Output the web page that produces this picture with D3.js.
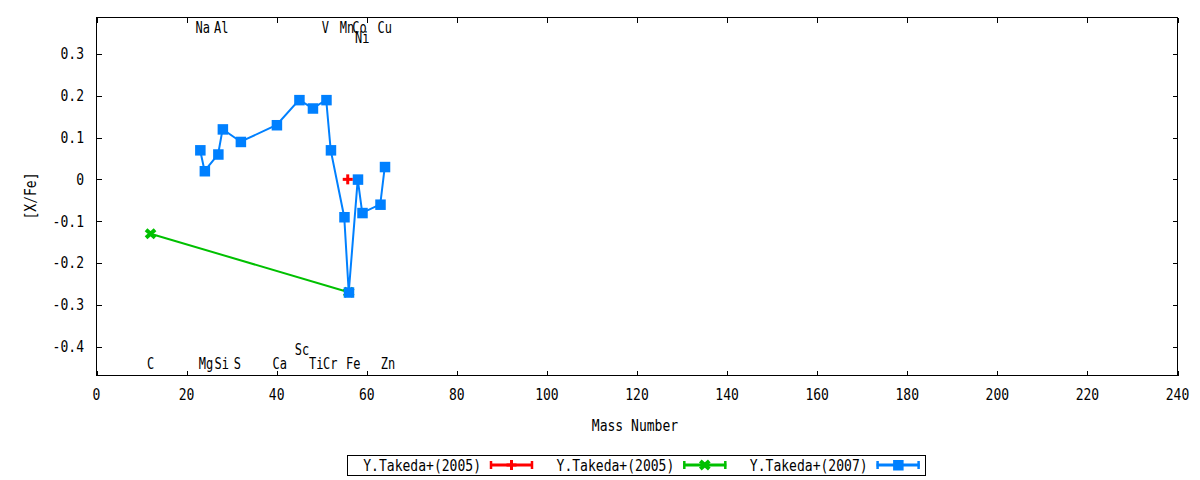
<html lang="en">
<head>
<meta charset="utf-8">
<title>[X/Fe] vs Mass Number</title>
<script src="https://d3js.org/d3.v7.min.js"></script>
<style>
  body { margin: 0; background: #fff; }
  text { font-family: "DejaVu Sans Mono", monospace; font-size: 15px; fill: #000; }
</style>
</head>
<body>
<script>
// --- data ---
// Y.Takeda+(2005), red
var redMass = [56];
var redVal  = [0.00];
// Y.Takeda+(2005), green
var greenMass = [12, 56];
var greenVal  = [-0.13, -0.27];
// Y.Takeda+(2007), blue
var blueMass = [23, 24, 27, 28, 32, 40, 45, 48, 51, 52, 55, 56, 58, 59, 63, 64];
var blueVal  = [0.07, 0.02, 0.06, 0.12, 0.09, 0.13, 0.19, 0.17, 0.19, 0.07, -0.09, -0.27, 0.00, -0.08, -0.06, 0.03];

// element labels (x = where the text sits, y = [X/Fe] row)
var labelNames = ["Na", "Al", "V", "Mn", "Co", "Cu", "Ni",
                  "C", "Mg", "Si", "S", "Ca", "Sc", "Ti", "Cr", "Fe", "Zn"];
var labelX = [23.6, 27.7, 50.8, 55.6, 58.4, 64, 59,
              12, 24.3, 27.8, 31.3, 40.7, 45.6, 48.8, 51.9, 57, 64.7];
var labelY = [0.363, 0.363, 0.363, 0.363, 0.363, 0.363, 0.338,
              -0.44, -0.44, -0.44, -0.44, -0.44, -0.408, -0.44, -0.44, -0.44, -0.44];

var xTicks = [0, 20, 40, 60, 80, 100, 120, 140, 160, 180, 200, 220, 240];
var yTicks = [-0.4, -0.3, -0.2, -0.1, 0, 0.1, 0.2, 0.3];
var seriesNames = ["Y.Takeda+(2005)", "Y.Takeda+(2005)", "Y.Takeda+(2007)"];

var w = 1200, h = 480;
var pL = 96.5, pR = 1177.5, pT = 17.5, pB = 375.5;

var svg = d3.select("body").append("svg").attr("width", w).attr("height", h);

var xScale = d3.scaleLinear().domain([0, 240]).range([pL, pR]);
var yScale = d3.scaleLinear().domain([-0.469, 0.387]).range([pB, pT]);

var yFmt = function(d) { return d === 0 ? "0" : d.toFixed(1); };

// narrow-ish monospace text like the gnuplot png font
function addText(x, y, str, anchor, rot, sx) {
  return svg.append("text")
    .attr("transform", "translate(" + x + "," + y + ")" + (rot ? " rotate(" + rot + ")" : "") +
                       " scale(" + (sx || 0.87) + ",1)")
    .attr("text-anchor", anchor || "middle")
    .text(str);
}

// ticks, inward, mirrored on all four sides
var tl = 5;
var g = svg.append("g").attr("stroke", "#000").attr("stroke-width", 1).attr("shape-rendering", "crispEdges");
xTicks.forEach(function(t) {
  var x = Math.round(xScale(t)) + 0.5;
  g.append("line").attr("x1", x).attr("x2", x).attr("y1", pB).attr("y2", pB - tl);
  g.append("line").attr("x1", x).attr("x2", x).attr("y1", pT).attr("y2", pT + tl);
});
yTicks.forEach(function(t) {
  var y = Math.round(yScale(t)) + 0.5;
  g.append("line").attr("x1", pL).attr("x2", pL + tl).attr("y1", y).attr("y2", y);
  g.append("line").attr("x1", pR).attr("x2", pR - tl).attr("y1", y).attr("y2", y);
});

xTicks.forEach(function(d) { addText(xScale(d), 400, d, "middle"); });
yTicks.forEach(function(d) { addText(84, yScale(d) + 5.5, yFmt(d), "end"); });

// frame
svg.append("rect")
  .attr("x", pL).attr("y", pT)
  .attr("width", pR - pL).attr("height", pB - pT)
  .attr("fill", "none").attr("stroke", "#000").attr("shape-rendering", "crispEdges");

// axis titles
addText(635, 431, "Mass Number", "middle");
addText(36, 196, "[X/Fe]", "middle", -90);

// element labels (packed tight, as in the original)
labelNames.forEach(function(d, i) {
  addText(xScale(labelX[i]), yScale(labelY[i]) + 5.5, d, "middle", 0, 0.8);
});

// markers
function drawPlus(sel, x, y, c) {
  sel.append("rect").attr("x", x - 5).attr("y", y - 1.5).attr("width", 10).attr("height", 3).attr("fill", c);
  sel.append("rect").attr("x", x - 1.5).attr("y", y - 5).attr("width", 3).attr("height", 10).attr("fill", c);
}
function drawCross(sel, x, y, c) {
  sel.append("path")
    .attr("d", "M" + (x - 4.5) + "," + (y - 4) + "L" + (x + 4.5) + "," + (y + 4) +
               "M" + (x - 4.5) + "," + (y + 4) + "L" + (x + 4.5) + "," + (y - 4))
    .attr("stroke", c).attr("stroke-width", 4).attr("fill", "none");
}
function drawSquare(sel, x, y, c) {
  sel.append("rect").attr("x", x - 5).attr("y", y - 5).attr("width", 10.5).attr("height", 10.5).attr("fill", c);
}

var line = d3.line()
  .x(function(d) { return xScale(d[0]); })
  .y(function(d) { return yScale(d[1]); });

var red = "#ff0000", green = "#00c000", blue = "#0080ff";

// green series
var greenPts = d3.zip(greenMass, greenVal);
svg.append("path").attr("d", line(greenPts)).attr("fill", "none").attr("stroke", green).attr("stroke-width", 2);
greenPts.forEach(function(p) { drawCross(svg, xScale(p[0]), yScale(p[1]), green); });

// blue series
var bluePts = d3.zip(blueMass, blueVal);
svg.append("path").attr("d", line(bluePts)).attr("fill", "none").attr("stroke", blue).attr("stroke-width", 2);
bluePts.forEach(function(p) { drawSquare(svg, xScale(p[0]), yScale(p[1]), blue); });

// red series
var redPts = d3.zip(redMass, redVal);
redPts.forEach(function(p) { drawPlus(svg, xScale(p[0]) - 1, yScale(p[1]), red); });

// legend
svg.append("rect").attr("x", 347.5).attr("y", 455.5).attr("width", 578).attr("height", 20)
  .attr("fill", "none").attr("stroke", "#000").attr("shape-rendering", "crispEdges");

var legColors = [red, green, blue];
var legMarks = [drawPlus, drawCross, drawSquare];
seriesNames.forEach(function(n, i) {
  var x0 = 481 + i * 193.3;
  var ly = 465;
  addText(x0, ly + 5.5, n, "end");
  var lg = svg.append("g");
  lg.append("line").attr("x1", x0 + 9).attr("x2", x0 + 52).attr("y1", ly).attr("y2", ly)
    .attr("stroke", legColors[i]).attr("stroke-width", 3);
  [x0 + 10, x0 + 51].forEach(function(cx) {
    lg.append("line").attr("x1", cx).attr("x2", cx).attr("y1", ly - 4).attr("y2", ly + 4)
      .attr("stroke", legColors[i]).attr("stroke-width", 2.5);
  });
  legMarks[i](lg, x0 + 30.5, ly, legColors[i]);
});
</script>
</body>
</html>
